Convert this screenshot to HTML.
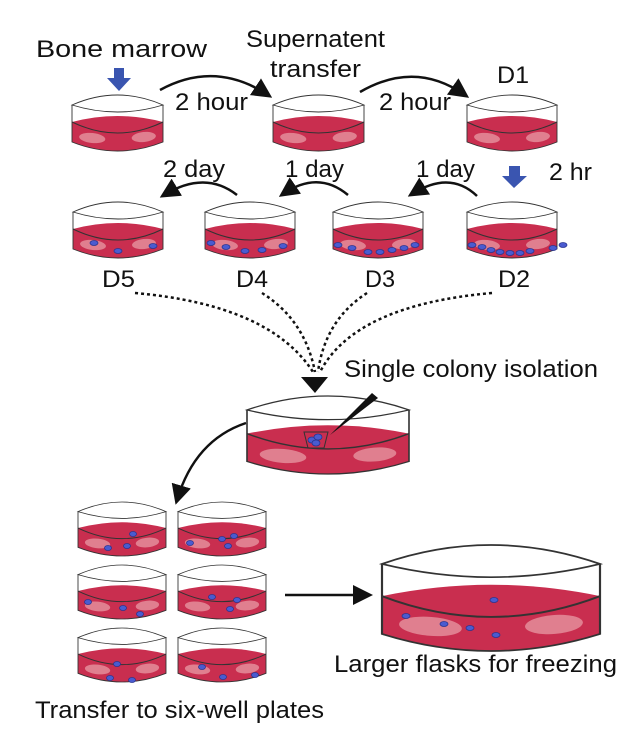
<!DOCTYPE html>
<html><head><meta charset="utf-8"><style>
body{margin:0;background:#fff}
svg{display:block}
text{font-family:"Liberation Sans",Arial,sans-serif;fill:#111}
</style></head><body>
<svg width="640" height="755" viewBox="0 0 640 755" xmlns="http://www.w3.org/2000/svg">
<defs>
<symbol id="dish" viewBox="0 0 90 56" preserveAspectRatio="none" overflow="visible">
<path d="M0,27 Q45,15 90,27 L90,47 Q45,65 0,47 Z" fill="#c92e4f"/>
<ellipse cx="20" cy="43" rx="13" ry="5" fill="#e07f8f" transform="rotate(6 20 43)"/>
<ellipse cx="71" cy="42" rx="12" ry="5" fill="#e07f8f" transform="rotate(-6 71 42)"/>
<path d="M0,27 Q45,49 90,27" fill="none" stroke="#333" stroke-width="1"/>
<path d="M0,10 Q45,-10 90,10 Q45,24 0,10 Z" fill="#fff" stroke="#333" stroke-width="0.9"/>
<path d="M0,10 L0,47 Q45,65 90,47 L90,10" fill="none" stroke="#333" stroke-width="0.9"/>
</symbol>
<marker id="ah" markerWidth="8" markerHeight="8" refX="6" refY="4" orient="auto"><path d="M0,0 L8,4 L0,8 Z" fill="#111"/></marker>
</defs>
<g fill="none" stroke="#111" stroke-width="2.5" marker-end="url(#ah)">
<path d="M160,90 Q215,60 268,95"/>
<path d="M360,92 Q415,60 465,95"/>
<path d="M237,195 Q205,170 164,195"/>
<path d="M348,195 Q318,170 283,194"/>
<path d="M477,196 Q450,170 412,194"/>
<path d="M246,423 Q195,440 177,500"/>
<path d="M285,595 L368,595"/>
</g>
<g fill="none" stroke="#111" stroke-width="2.5" stroke-dasharray="3,3">
<path d="M135,293 Q270,305 313,372"/>
<path d="M262,293 Q305,320 315,372"/>
<path d="M367,293 Q325,320 318,372"/>
<path d="M492,293 Q355,305 320,372"/>
</g>
<path d="M301,377 L328,377 L315,393 Z" fill="#111"/>
<path d="M107,78 L131,78 L119,91 Z M114,68 h10 v11 h-10 Z" fill="#3a55b0"/>
<path d="M502,176 L527,176 L514,188 Z M509,166 h11 v11 h-11 Z" fill="#3a55b0"/>
<use href="#dish" x="72" y="95" width="91" height="56"/>
<use href="#dish" x="273" y="95" width="91" height="56"/>
<use href="#dish" x="467" y="95" width="90" height="56"/>
<use href="#dish" x="73" y="202" width="90" height="56"/>
<use href="#dish" x="205" y="202" width="90" height="56"/>
<use href="#dish" x="333" y="202" width="90" height="56"/>
<use href="#dish" x="467" y="202" width="90" height="56"/>
<use href="#dish" x="247" y="396" width="162" height="78"/>
<use href="#dish" x="78" y="502" width="88" height="54"/>
<use href="#dish" x="178" y="502" width="88" height="54"/>
<use href="#dish" x="78" y="565" width="88" height="54"/>
<use href="#dish" x="178" y="565" width="88" height="54"/>
<use href="#dish" x="78" y="628" width="88" height="54"/>
<use href="#dish" x="178" y="628" width="88" height="54"/>
<use href="#dish" x="382" y="545" width="218" height="106"/>
<g fill="#4a5bd0" stroke="#2a3590" stroke-width="0.8">
<ellipse cx="94" cy="243" rx="4" ry="2.5"/><ellipse cx="118" cy="251" rx="4" ry="2.5"/><ellipse cx="153" cy="246" rx="4" ry="2.5"/>
<ellipse cx="211" cy="243" rx="4" ry="2.5"/><ellipse cx="226" cy="247" rx="4" ry="2.5"/><ellipse cx="245" cy="251" rx="4" ry="2.5"/><ellipse cx="262" cy="250" rx="4" ry="2.5"/><ellipse cx="283" cy="246" rx="4" ry="2.5"/>
<ellipse cx="338" cy="245" rx="4" ry="2.5"/><ellipse cx="352" cy="248" rx="4" ry="2.5"/><ellipse cx="368" cy="252" rx="4" ry="2.5"/><ellipse cx="380" cy="252" rx="4" ry="2.5"/><ellipse cx="392" cy="250" rx="4" ry="2.5"/><ellipse cx="404" cy="248" rx="4" ry="2.5"/><ellipse cx="415" cy="245" rx="4" ry="2.5"/>
<ellipse cx="472" cy="245" rx="4" ry="2.5"/><ellipse cx="482" cy="247" rx="4" ry="2.5"/><ellipse cx="491" cy="250" rx="4" ry="2.5"/><ellipse cx="500" cy="252" rx="4" ry="2.5"/><ellipse cx="510" cy="253" rx="4" ry="2.5"/><ellipse cx="520" cy="253" rx="4" ry="2.5"/><ellipse cx="530" cy="251" rx="4" ry="2.5"/><ellipse cx="553" cy="248" rx="4" ry="2.5"/><ellipse cx="563" cy="245" rx="4" ry="2.5"/>
<ellipse cx="312" cy="440" rx="4" ry="3"/><ellipse cx="318" cy="437" rx="4" ry="3"/><ellipse cx="316" cy="443" rx="4" ry="3"/>
<ellipse cx="108" cy="548" rx="3.5" ry="2.5"/><ellipse cx="133" cy="534" rx="3.5" ry="2.5"/><ellipse cx="127" cy="546" rx="3.5" ry="2.5"/>
<ellipse cx="190" cy="543" rx="3.5" ry="2.5"/><ellipse cx="222" cy="539" rx="3.5" ry="2.5"/><ellipse cx="234" cy="536" rx="3.5" ry="2.5"/><ellipse cx="228" cy="546" rx="3.5" ry="2.5"/>
<ellipse cx="88" cy="602" rx="3.5" ry="2.5"/><ellipse cx="123" cy="608" rx="3.5" ry="2.5"/><ellipse cx="140" cy="614" rx="3.5" ry="2.5"/>
<ellipse cx="212" cy="597" rx="3.5" ry="2.5"/><ellipse cx="237" cy="600" rx="3.5" ry="2.5"/><ellipse cx="230" cy="609" rx="3.5" ry="2.5"/>
<ellipse cx="117" cy="664" rx="3.5" ry="2.5"/><ellipse cx="110" cy="678" rx="3.5" ry="2.5"/><ellipse cx="132" cy="680" rx="3.5" ry="2.5"/>
<ellipse cx="202" cy="667" rx="3.5" ry="2.5"/><ellipse cx="223" cy="677" rx="3.5" ry="2.5"/><ellipse cx="255" cy="675" rx="3.5" ry="2.5"/>
<ellipse cx="406" cy="616" rx="4" ry="2.5"/><ellipse cx="444" cy="624" rx="4" ry="2.5"/><ellipse cx="470" cy="628" rx="4" ry="2.5"/><ellipse cx="494" cy="600" rx="4" ry="2.5"/><ellipse cx="496" cy="635" rx="4" ry="2.5"/>
</g>
<path d="M304,432 L328,432 L324,448 L308,448 Z" fill="none" stroke="#333" stroke-width="1"/>
<path d="M330,435 L372,393 L378,398 Z" fill="#111"/>
<g font-size="24" lengthAdjust="spacingAndGlyphs">
<text x="36" y="57" textLength="171" lengthAdjust="spacingAndGlyphs">Bone marrow</text>
<text x="246" y="47" textLength="139" lengthAdjust="spacingAndGlyphs">Supernatent</text>
<text x="270" y="77" textLength="91" lengthAdjust="spacingAndGlyphs">transfer</text>
<text x="175" y="110" textLength="73" lengthAdjust="spacingAndGlyphs">2 hour</text>
<text x="379" y="110" textLength="72" lengthAdjust="spacingAndGlyphs">2 hour</text>
<text x="497" y="83" textLength="32" lengthAdjust="spacingAndGlyphs">D1</text>
<text x="163" y="177" textLength="62" lengthAdjust="spacingAndGlyphs">2 day</text>
<text x="285" y="177" textLength="59" lengthAdjust="spacingAndGlyphs">1 day</text>
<text x="416" y="177" textLength="59" lengthAdjust="spacingAndGlyphs">1 day</text>
<text x="549" y="180" textLength="43" lengthAdjust="spacingAndGlyphs">2 hr</text>
<text x="102" y="287" textLength="33" lengthAdjust="spacingAndGlyphs">D5</text>
<text x="236" y="287" textLength="32" lengthAdjust="spacingAndGlyphs">D4</text>
<text x="365" y="287" textLength="30" lengthAdjust="spacingAndGlyphs">D3</text>
<text x="498" y="287" textLength="32" lengthAdjust="spacingAndGlyphs">D2</text>
<text x="344" y="377" textLength="254" lengthAdjust="spacingAndGlyphs">Single colony isolation</text>
<text x="334" y="672" textLength="283" lengthAdjust="spacingAndGlyphs">Larger flasks for freezing</text>
<text x="35" y="718" textLength="289" lengthAdjust="spacingAndGlyphs">Transfer to six-well plates</text>
</g>
</svg>
</body></html>
